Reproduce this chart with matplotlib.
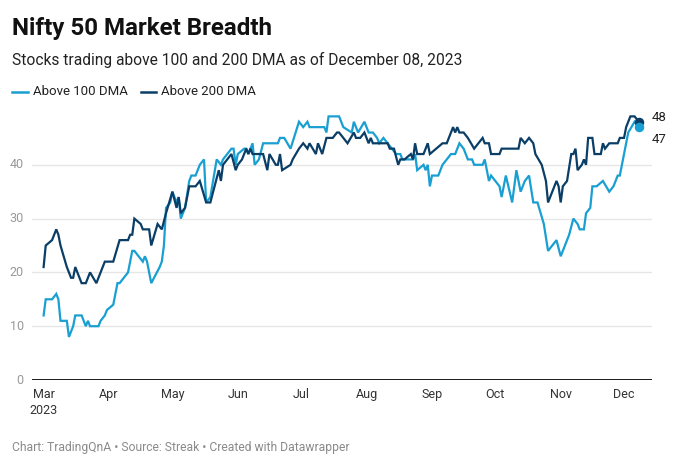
import pandas as pd
import matplotlib
matplotlib.use('Agg')
import matplotlib.pyplot as plt
from matplotlib.lines import Line2D

plt.rcParams['font.family'] = ['Roboto', 'DejaVu Sans']

# days since 1 Mar 2023 and stocks above the moving average (vertices)
days_100 = [0, 1, 4, 6, 7, 8, 11, 12, 14, 15, 18, 20, 21, 22, 26, 27, 29, 30, 33, 35,
            36, 40, 42, 43, 47, 48, 49, 51, 55, 56, 57, 58, 60, 61, 63, 64, 65, 67, 69, 70,
            72, 74, 76, 77, 79, 82, 84, 85, 89, 90, 91, 92, 95, 96, 97, 99, 100, 102, 104, 111,
            112, 114, 117, 121, 123, 125, 126, 133, 134, 135, 140, 142, 146, 147, 149, 152, 154, 156, 158, 159,
            161, 163, 165, 167, 169, 170, 175, 176, 177, 180, 181, 182, 183, 184, 187, 189, 191, 193, 195, 197,
            199, 201, 203, 204, 208, 209, 211, 212, 216, 217, 219, 222, 224, 226, 228, 230, 232, 234, 237, 239,
            241, 243, 245, 248, 249, 251, 253, 254, 256, 257, 259, 260, 262, 265, 268, 270, 272, 273, 275, 277,
            280, 282]
above_100 = [12, 15, 15, 16, 15, 11, 11, 8, 10, 12, 12, 10, 11, 10, 10, 11, 12, 13, 14, 18,
             18, 20, 24, 24, 22, 23, 22, 18, 21, 22, 25, 32, 33, 35, 33, 34, 30, 32, 37, 38,
             38, 40, 41, 33, 34, 41, 40, 41, 43, 43, 40, 42, 43, 43, 42, 44, 40, 41, 44, 44,
             45, 45, 43, 48, 47, 48, 47, 47, 46, 49, 49, 47, 46, 48, 46, 48, 46, 46, 45, 44,
             45, 44, 43, 42, 42, 41, 41, 42, 39, 40, 39, 40, 36, 38, 38, 40, 41, 42, 42, 44,
             43, 41, 41, 40, 40, 41, 37, 38, 36, 34, 38, 33, 39, 35, 37, 38, 33, 33, 29, 24,
             25, 26, 23, 26, 27, 30, 29, 28, 28, 31, 32, 36, 36, 37, 35, 36, 38, 38, 42, 46,
             48, 47]

days_200 = [0, 1, 4, 6, 7, 8, 11, 13, 14, 15, 18, 20, 22, 25, 29, 33, 36, 40, 41, 42,
            43, 46, 47, 50, 51, 54, 56, 58, 61, 63, 64, 65, 67, 69, 72, 74, 77, 79, 83, 84,
            85, 89, 91, 92, 94, 96, 97, 98, 99, 104, 106, 107, 110, 111, 112, 113, 117, 118, 121, 123,
            125, 126, 129, 130, 132, 134, 137, 139, 140, 142, 144, 147, 148, 150, 152, 154, 155, 156, 163, 164,
            166, 168, 169, 171, 174, 175, 176, 177, 180, 182, 183, 186, 189, 191, 194, 195, 196, 197, 199, 201,
            204, 206, 208, 209, 211, 212, 216, 217, 225, 226, 228, 230, 232, 233, 236, 238, 239, 241, 243, 244,
            245, 246, 248, 250, 251, 252, 253, 255, 256, 257, 258, 260, 261, 264, 265, 266, 268, 272, 273, 275,
            276, 278, 280, 282]
above_200 = [21, 25, 26, 28, 27, 25, 21, 19, 19, 21, 18, 18, 20, 18, 22, 22, 26, 26, 27, 27,
             30, 29, 28, 28, 25, 29, 28, 31, 35, 32, 34, 31, 32, 36, 36, 37, 33, 33, 39, 37,
             40, 42, 39, 40, 41, 43, 42, 43, 42, 42, 39, 42, 40, 40, 42, 39, 40, 41, 43, 44,
             43, 44, 42, 44, 42, 45, 45, 46, 46, 45, 44, 46, 45, 45, 46, 44, 45, 44, 44, 43,
             43, 40, 41, 41, 42, 41, 44, 42, 42, 44, 42, 43, 44, 44, 47, 46, 47, 46, 46, 45,
             43, 44, 45, 44, 44, 42, 42, 43, 43, 45, 44, 45, 44, 42, 40, 37, 33, 35, 37, 36,
             33, 36, 37, 42, 42, 43, 39, 40, 41, 40, 45, 45, 42, 42, 44, 43, 44, 44, 45, 45,
             47, 49, 49, 48]

month_ticks = ['2023-03-01', '2023-04-01', '2023-05-01', '2023-06-01', '2023-07-01',
               '2023-08-01', '2023-09-01', '2023-10-01', '2023-11-01', '2023-12-01']
month_labels = ['Mar\n2023', 'Apr', 'May', 'Jun', 'Jul', 'Aug', 'Sep', 'Oct', 'Nov', 'Dec']
y_ticks = [0, 10, 20, 30, 40]

start = pd.Timestamp('2023-03-01')
d100 = start + pd.to_timedelta(days_100, unit='D')
d200 = start + pd.to_timedelta(days_200, unit='D')

light = '#199fd1'
dark = '#0b3e66'

W, H = 689, 467
fig = plt.figure(figsize=(W / 100, H / 100), dpi=100)

def fx(x):
    return x / W

def fy(y):
    return 1 - y / H

ax = fig.add_axes([fx(32), fy(380), fx(652) - fx(32), fy(111) - fy(380)])

ax.plot(d100, above_100, color=light, lw=1.6, solid_joinstyle='miter', zorder=3)
ax.plot(d200, above_200, color=dark, lw=1.6, solid_joinstyle='miter', zorder=4)
ax.scatter([d200[-1]], [above_200[-1]], s=34, color=dark, zorder=5)
ax.scatter([d100[-1]], [above_100[-1]], s=34, color=light, zorder=6)

ax.annotate(str(above_200[-1]), (d200[-1], above_200[-1]), xytext=(9, 3),
            textcoords='offset points', va='center', ha='left', fontsize=9.5, color='#222')
ax.annotate(str(above_100[-1]), (d100[-1], above_100[-1]), xytext=(9, -9),
            textcoords='offset points', va='center', ha='left', fontsize=9.5, color='#222')

ax.set_xlim(pd.Timestamp('2023-02-23 12:00'), pd.Timestamp('2023-12-14 06:00'))
ax.set_ylim(0, 50)

ax.set_xticks(pd.to_datetime(month_ticks))
ax.set_xticklabels(month_labels, linespacing=1.3)
ax.set_yticks(y_ticks)
ax.tick_params(axis='x', length=0, pad=6, labelsize=9, labelcolor='#333333')
ax.tick_params(axis='y', length=0, pad=6, labelsize=9, labelcolor='#999999')
for lab in ax.get_yticklabels():
    lab.set_va('center')

ax.grid(axis='y', color='#e6e6e6', lw=1)
ax.set_axisbelow(True)
for s in ax.spines.values():
    s.set_visible(False)
ax.axhline(0, color='#1a1a1a', lw=1.4, zorder=2)

fig.text(fx(12), fy(35), 'Nifty 50 Market Breadth', fontsize=17.4, fontweight='bold',
         color='#111111', va='baseline')
fig.text(fx(12), fy(65), 'Stocks trading above 100 and 200 DMA as of December 08, 2023',
         fontsize=11.2, color='#222222', va='baseline')

fig.add_artist(Line2D([fx(12), fx(28)], [fy(92), fy(92)], color=light, lw=1.8))
fig.text(fx(33), fy(92), 'Above 100 DMA', fontsize=9.5, color='#222222', va='center')
fig.add_artist(Line2D([fx(141), fx(156)], [fy(92), fy(92)], color=dark, lw=1.8))
fig.text(fx(161), fy(92), 'Above 200 DMA', fontsize=9.5, color='#222222', va='center')

fig.text(fx(12), fy(447), 'Chart: TradingQnA \u2022 Source: Streak \u2022 Created with Datawrapper',
         fontsize=8.7, color='#8a8a8a', va='center')

fig.savefig('out.png', dpi=100)
